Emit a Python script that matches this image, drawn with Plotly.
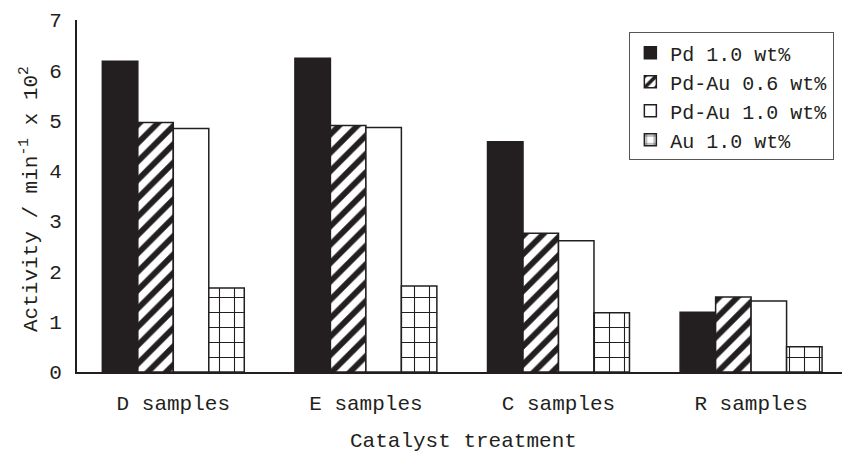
import plotly.graph_objects as go

# Catalyst activity by sample treatment
categories = ["D samples", "E samples", "C samples", "R samples"]
series_names = ["Pd 1.0 wt%", "Pd-Au 0.6 wt%", "Pd-Au 1.0 wt%", "Au 1.0 wt%"]
pd_10 = [6.18, 6.24, 4.58, 1.19]
pdau_06 = [4.96, 4.90, 2.76, 1.49]
pdau_10 = [4.84, 4.86, 2.61, 1.41]
au_10 = [1.67, 1.71, 1.18, 0.50]
y_ticks = [0, 1, 2, 3, 4, 5, 6, 7]

INK = "#231f20"
FONT = "Liberation Mono, Courier New, monospace"

styles = [
    dict(color=INK, pattern=dict(shape="")),
    dict(color="white", pattern=dict(shape="/", fgcolor=INK, bgcolor="white",
                                     size=13, solidity=0.45, fillmode="replace")),
    dict(color="white", pattern=dict(shape="")),
    dict(color="white", pattern=dict(shape="+", fgcolor=INK, bgcolor="white",
                                     size=15, solidity=0.14, fillmode="replace")),
]

fig = go.Figure()
for name, vals, st in zip(series_names, [pd_10, pdau_06, pdau_10, au_10], styles):
    fig.add_trace(go.Bar(
        x=categories, y=vals, name=name,
        marker=dict(color=st["color"], pattern=st["pattern"],
                    line=dict(color=INK, width=1.5)),
    ))

fig.update_layout(
    width=842, height=454,
    margin=dict(l=77, r=0, t=20, b=82),
    paper_bgcolor="white", plot_bgcolor="white",
    barmode="group", bargap=0.263, bargroupgap=0,
    font=dict(family=FONT, size=21, color=INK),
    showlegend=True,
    legend=dict(
        x=0.99, y=0.965, xanchor="right", yanchor="top",
        bordercolor="#555555", borderwidth=1, bgcolor="white",
        font=dict(family=FONT, size=20, color=INK),
        itemwidth=30, tracegroupgap=0,
    ),
    xaxis=dict(
        range=[-0.5, 3.472], showline=True, linecolor=INK, linewidth=2,
        ticks="", showgrid=False, ticklabelstandoff=11,
        tickfont=dict(family=FONT, size=21, color=INK),
    ),
    yaxis=dict(
        range=[0, 7], tickvals=y_ticks, showline=True, linecolor=INK, linewidth=2,
        ticks="", showgrid=False, zeroline=False, ticklabelstandoff=9,
        tickfont=dict(family=FONT, size=21, color=INK),
    ),
    annotations=[
        dict(text="Activity / min<sup>-1</sup> x 10<sup>2</sup>", textangle=-90,
             xref="paper", yref="paper", x=(29 - 77) / 765, y=(372 - 199) / 352,
             xanchor="center", yanchor="middle", showarrow=False,
             font=dict(family=FONT, size=21, color=INK)),
        dict(text="Catalyst treatment",
             xref="paper", yref="paper", x=(463 - 77) / 765, y=-(441 - 372) / 352,
             xanchor="center", yanchor="middle", showarrow=False,
             font=dict(family=FONT, size=21, color=INK)),
    ],
)

fig.write_html("out.html")
